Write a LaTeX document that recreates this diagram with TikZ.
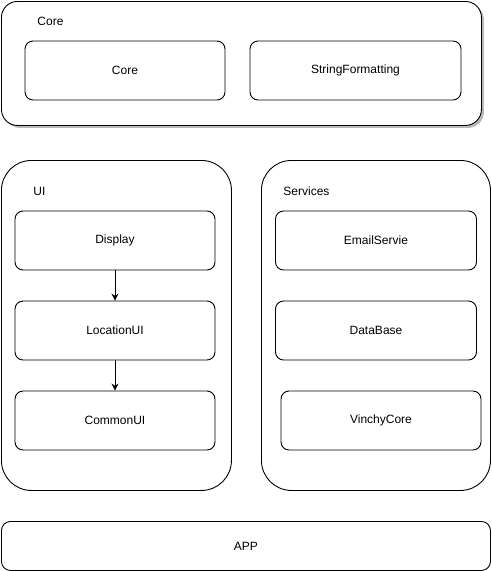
\documentclass[tikz,border=0pt]{standalone}
\usepackage{fontspec}
\setmainfont{Liberation Sans}
\usetikzlibrary{positioning,arrows.meta,shadows}

\begin{document}
\begin{tikzpicture}[x=1pt, y=-1pt, >={Stealth[length=7pt, width=7pt]},
  font=\fontsize{12}{14}\selectfont, line width=0.9pt,
  group/.style={draw, fill=white, rounded corners=30pt, anchor=north west,
                inner sep=0pt},
  box/.style={draw, fill=white, rounded corners=8pt, align=center,
              minimum width=200pt, minimum height=59pt, inner sep=0pt},
  lab/.style={anchor=west, inner sep=0pt}]
  \useasboundingbox (0,0) rectangle (491,571);
  % top group with shadow
  \node[group, rounded corners=16pt, minimum width=480pt, minimum height=124pt,
    drop shadow={shadow xshift=2.5pt, shadow yshift=-2.5pt, fill=black!45,
      opacity=0.6}] (coregrp) at (1,1) {};
  \node[lab] (corelab) at (37,21) {Core};
  \node[box] (core) at (125,70.5) {Core};
  \node[box, minimum width=211pt] (strfmt) at (355.5,70.5) {StringFormatting};
  % the two columns
  \node[group, minimum width=230pt, minimum height=330pt] (uigrp) at (1,160) {};
  \node[lab] (uilab) at (33,191) {UI};
  \node[box] (display) at (115,240.5) {Display};
  \node[box] (locui) at (115,330.5) {LocationUI};
  \node[box] (commonui) at (115,420.5) {CommonUI};
  \node[group, minimum width=229pt, minimum height=330pt] (svcgrp) at (261,160) {};
  \node[lab] (svclab) at (283,191) {Services};
  \node[box, minimum width=201pt] (email) at (376,240.5) {EmailServie};
  \node[box, minimum width=201pt] (db) at (376,330.5) {DataBase};
  \node[box] (vinchy) at (381,420.5) {VinchyCore};
  % app bar
  \node[group, rounded corners=9pt, minimum width=489pt, minimum height=49pt]
    (app) at (1,521) {};
  \node (applab) at (app.center) {APP};
  \draw[->] (display) -- (locui);
  \draw[->] (locui) -- (commonui);
\end{tikzpicture}
\end{document}
